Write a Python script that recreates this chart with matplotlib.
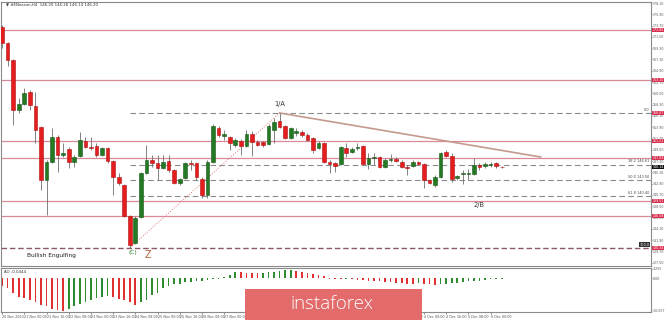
import numpy as np
import matplotlib.pyplot as plt
from matplotlib.patches import Rectangle

plt.rcParams['font.family'] = ['DejaVu Sans']

# H4 candles
opens = [173.44, 170.32, 167.00, 157.25, 158.42, 160.76, 158.03, 153.94, 143.60, 147.11,
         151.99, 148.48, 149.65, 147.11, 148.28, 151.21, 150.04, 150.23, 148.48, 149.84,
         147.31, 144.19, 142.63, 136.58, 131.32, 136.39, 144.97, 147.50, 146.92, 145.94,
         147.31, 145.55, 143.02, 143.99, 146.92, 146.92, 143.80, 140.68, 147.11, 153.74,
         152.18, 151.99, 150.43, 151.21, 150.23, 152.57, 151.01, 151.01, 150.62, 153.35,
         155.11, 154.13, 151.79, 152.77, 152.96, 152.38, 151.79, 149.84, 150.82, 147.11,
         146.92, 146.72, 149.84, 149.06, 149.84, 150.23, 146.72, 147.89, 148.09, 146.14,
         147.50, 147.70, 147.11, 146.14, 146.33, 147.11, 146.72, 143.60, 142.63, 144.19,
         149.06, 148.28, 143.99, 144.77, 144.77, 144.77, 146.53, 146.33, 146.53, 146.92,
         146.14]
highs = [173.83, 170.51, 167.20, 159.59, 161.54, 161.15, 160.76, 154.13, 147.50, 153.74,
         152.38, 150.82, 150.04, 148.48, 152.96, 151.99, 151.99, 150.82, 150.04, 150.04,
         147.50, 144.97, 142.82, 136.78, 136.58, 145.16, 150.43, 148.48, 148.48, 148.48,
         148.48, 145.75, 143.99, 147.11, 147.50, 147.11, 144.19, 147.50, 154.52, 154.13,
         153.35, 152.18, 151.79, 151.60, 153.35, 153.16, 151.40, 151.21, 154.52, 155.69,
         156.67, 154.33, 153.94, 153.74, 153.35, 152.77, 151.99, 151.21, 151.01, 147.50,
         147.11, 150.23, 150.82, 150.04, 150.82, 150.43, 148.87, 148.87, 148.28, 147.89,
         148.67, 148.09, 147.50, 146.53, 147.50, 147.31, 146.92, 143.80, 144.58, 149.06,
         149.45, 148.87, 144.58, 145.55, 145.75, 147.89, 146.92, 147.11, 147.11, 147.11,
         146.33]
lows = [169.34, 165.83, 154.33, 156.67, 158.23, 157.25, 150.82, 141.65, 136.78, 146.92,
        145.16, 148.09, 145.94, 146.14, 148.09, 149.84, 149.45, 148.09, 148.28, 146.92,
        140.68, 142.63, 136.39, 130.34, 131.12, 136.19, 144.77, 146.14, 143.60, 145.75,
        145.16, 142.82, 142.63, 143.80, 145.55, 143.60, 140.09, 140.09, 146.92, 151.99,
        151.40, 149.45, 150.04, 148.48, 150.04, 148.28, 150.23, 150.04, 150.43, 150.82,
        153.74, 151.60, 151.60, 152.18, 151.99, 151.21, 148.87, 149.65, 146.92, 144.97,
        145.16, 146.53, 148.09, 148.87, 149.45, 146.53, 145.75, 146.53, 145.94, 145.94,
        147.11, 147.11, 145.94, 144.58, 146.14, 146.53, 142.04, 142.82, 142.24, 143.99,
        148.09, 143.21, 143.60, 142.82, 143.60, 144.58, 145.55, 145.94, 146.14, 145.94,
        145.94]
closes = [170.32, 167.00, 157.25, 158.42, 160.57, 158.23, 153.35, 143.60, 147.11, 151.99,
          148.48, 148.87, 147.11, 148.09, 151.40, 150.04, 149.84, 148.48, 149.84, 147.31,
          144.19, 143.02, 136.58, 130.93, 136.19, 144.97, 147.50, 146.92, 145.94, 147.11,
          145.55, 143.02, 143.80, 146.92, 146.72, 144.19, 140.68, 147.11, 154.13, 152.38,
          152.57, 150.82, 151.40, 150.23, 152.57, 151.01, 150.43, 150.43, 154.13, 154.91,
          153.94, 151.79, 153.74, 153.16, 152.38, 151.40, 149.45, 150.82, 147.11, 146.72,
          146.33, 150.04, 148.87, 149.65, 150.04, 146.72, 147.89, 148.09, 146.14, 147.50,
          147.70, 147.31, 146.14, 145.94, 147.11, 146.72, 143.60, 143.02, 144.19, 148.87,
          148.28, 143.80, 144.38, 144.97, 144.97, 146.53, 146.14, 146.72, 146.72, 146.33,
          146.05]

# Awesome Oscillator
ao_values = [-2.6, -3.3, -5.0, -6.1, -6.7, -7.4, -7.8, -8.9, -9.4, -10.2,
             -10.6, -10.9, -10.2, -9.4, -8.7, -7.8, -7.2, -6.7, -6.1, -5.8,
             -6.1, -7.0, -7.4, -7.8, -8.9, -7.8, -7.2, -5.6, -4.8, -3.3,
             -2.4, -2.0, -1.7, -1.3, -1.1, -0.9, -0.8, -0.6, -0.3, -0.1,
             0.6, 1.1, 2.2, 2.1, 2.0, 1.9, 1.8, 2.0, 2.2, 2.3,
             2.4, 2.7, 2.8, 2.6, 2.2, 1.9, 1.6, 1.3, 1.0, -0.1,
             -0.2, -0.3, -0.2, -0.3, -0.4, -0.5, -0.7, -0.8, -1.0, -1.1,
             -1.3, -1.4, -1.6, -1.7, -1.7, -1.6, -1.8, -2.0, -2.1, -1.9,
             -1.7, -1.6, -1.4, -1.2, -1.0, -0.8, -0.7, -0.4, -0.3, -0.2,
             -0.1]

date_labels = ["20 Nov 2020", "21 Nov 00:00", "21 Nov 16:00", "22 Nov 08:00", "23 Nov 00:00",
               "23 Nov 16:00", "24 Nov 08:00", "25 Nov 00:00", "25 Nov 16:00", "26 Nov 08:00",
               "27 Nov 00:00", "28 Nov 16:00", "29 Nov 08:00", "30 Nov 00:00", "30 Nov 16:00",
               "1 Dec 08:00", "2 Dec 00:00", "2 Dec 16:00", "3 Dec 08:00", "4 Dec 00:00",
               "4 Dec 16:00", "5 Dec 08:00", "6 Dec 00:00"]

price_ticks = [178.10, 175.90, 173.70, 171.50, 169.30, 167.10, 164.90, 162.70, 160.50, 158.30,
               156.10, 153.90, 151.70, 149.50, 147.30, 145.10, 142.90, 140.70, 138.50, 136.30,
               134.10, 131.90, 129.70, 127.50]

sr_levels = [172.85, 163.10, 151.21, 147.89, 139.51, 136.58]
fib_ratios = [0.0, 38.2, 50.0, 61.8]
swing_low = (23, 130.34)
swing_high = (50, 156.67)
trend_end = (97, 148.09)
last_price = 146.14

n = len(opens)
idx = np.arange(n)
o = np.array(opens); c = np.array(closes)
h = np.array(highs); l = np.array(lows)
up = c >= o

fig = plt.figure(figsize=(6.65, 3.2), dpi=100)
ax = fig.add_axes([1/665, 1-266/320, 650/665, 264/320])
ax2 = fig.add_axes([1/665, 1-312/320, 650/665, 44.5/320], sharex=ax)

# candles
ax.vlines(idx, l, h, color='#6e6e6e', lw=0.6, zorder=3)
body_h = np.maximum(np.abs(c - o), 0.12)
ax.bar(idx, body_h, bottom=np.minimum(o, c), width=0.66,
       color=np.where(up, '#237a23', '#e41e1e'),
       edgecolor=np.where(up, '#1a551a', '#b01010'), lw=0.4, zorder=4)

# support / resistance lines
for lvl in sr_levels:
    ax.axhline(lvl, color='#d98a98', lw=0.9, zorder=1)

# fibonacci retracement of the (C) -> 1/A swing
rng = swing_high[1] - swing_low[1]
for r in fib_ratios:
    lvl = swing_high[1] - rng * r / 100
    ax.hlines(lvl, swing_low[0], 117, colors='#8c8c8c', linestyles=(0, (5, 3)), lw=0.8, zorder=2)
    txt = "0.0" if r == 0 else "%.1f %.2f" % (r, lvl)
    ax.text(116.6, lvl + 0.25, txt, ha='right', va='bottom', fontsize=2.5, color='#444444')
ax.axhline(swing_low[1], color='#8c5a64', lw=1.0, ls=(0, (4, 2)), zorder=2)
ax.text(116.6, swing_low[1] + 0.25, "100.0", ha='right', va='bottom', fontsize=2.5,
        color='white', bbox=dict(boxstyle='square,pad=0.1', fc='#333333', ec='none'))
ax.plot([swing_low[0], swing_high[0]], [swing_low[1], swing_high[1]],
        color='#e07878', lw=0.7, ls=':', zorder=2)

# trend line from the top
ax.plot([swing_high[0], trend_end[0]], [swing_high[1], trend_end[1]],
        color='#c49a8c', lw=1.2, zorder=2)

# wave labels
ax.text(50, 157.8, "1/A", ha='center', va='bottom', fontsize=4.8, color='#333333')
ax.text(86, 138.7, "2/B", ha='center', va='center', fontsize=4.8, color='#333333')
ax.text(23.6, 129.4, "(C)", ha='center', va='center', fontsize=4.2, color='#2a7a2a')
ax.text(26.2, 128.9, "Z", ha='center', va='center', fontsize=7, color='#b5653a')
ax.text(4.5, 128.8, "Bullish Engulfing", ha='left', va='center', fontsize=4.2, color='#222222')
ax.text(0.008, 0.997, "\u25bc #ENeason,H4  146.20 146.28 146.14 146.20", transform=ax.transAxes,
        ha='left', va='top', fontsize=2.8, color='#333333')

# price labels on the right axis
ytr = ax.get_yaxis_transform()
for lvl in sr_levels + [swing_high[1], swing_low[1]]:
    ax.text(1.002, lvl, "%.2f" % lvl, transform=ytr, fontsize=2.3, color='white', va='center',
            ha='left', bbox=dict(boxstyle='square,pad=0.12', fc='#d9304f', ec='none'), clip_on=False)
ax.text(1.002, last_price, "%.2f" % last_price, transform=ytr, fontsize=2.3, color='white',
        va='center', ha='left', bbox=dict(boxstyle='square,pad=0.12', fc='#111111', ec='none'))

ax.set_xlim(-0.2, 116.9)
ax.set_ylim(126.83, 178.31)
ax.yaxis.tick_right()
ax.set_yticks(price_ticks)
ax.set_yticklabels(["%.2f" % t for t in price_ticks])
ax.tick_params(axis='y', labelsize=2.3, colors='#555555', length=1, width=0.5, pad=0.5)
ax.tick_params(axis='x', length=0, labelbottom=False)

# oscillator panel
ao = np.array(ao_values)
ao_up = np.concatenate([[False], ao[1:] > ao[:-1]])
ax2.bar(idx, ao, width=0.3, color=np.where(ao_up, '#2e8b2e', '#e03030'))
ax2.set_ylim(-11.3, 3.7)
ax2.yaxis.tick_right()
ax2.set_yticks([3.255, 0, -10.657])
ax2.set_yticklabels(["3.255", "0.00", "-10.657"])
ax2.tick_params(axis='y', labelsize=2.3, colors='#555555', length=1, width=0.5, pad=0.5)
ax2.text(0.005, 0.95, "AO -0.0444", transform=ax2.transAxes, fontsize=2.8, va='top', color='#333333')
ax2.set_xticks(idx[::4])
ax2.set_xticklabels(date_labels, ha='left')
ax2.tick_params(axis='x', labelsize=2.4, colors='#555555', length=1.5, width=0.5, pad=1)

for a in (ax, ax2):
    for s in a.spines.values():
        s.set_color('#8a8a8a')
        s.set_linewidth(0.8)

# watermark logo
fig.patches.append(Rectangle((245/665, 0), 177/665, 31/320, transform=fig.transFigure,
                             facecolor='#e36b6b', edgecolor='none', zorder=10))
fig.text(332/665, 16/320, "instaforex", color='white', fontsize=13.5, ha='center', va='center',
         family='Open Sans', weight='light', zorder=11)

fig.savefig('out.png', dpi=100)
